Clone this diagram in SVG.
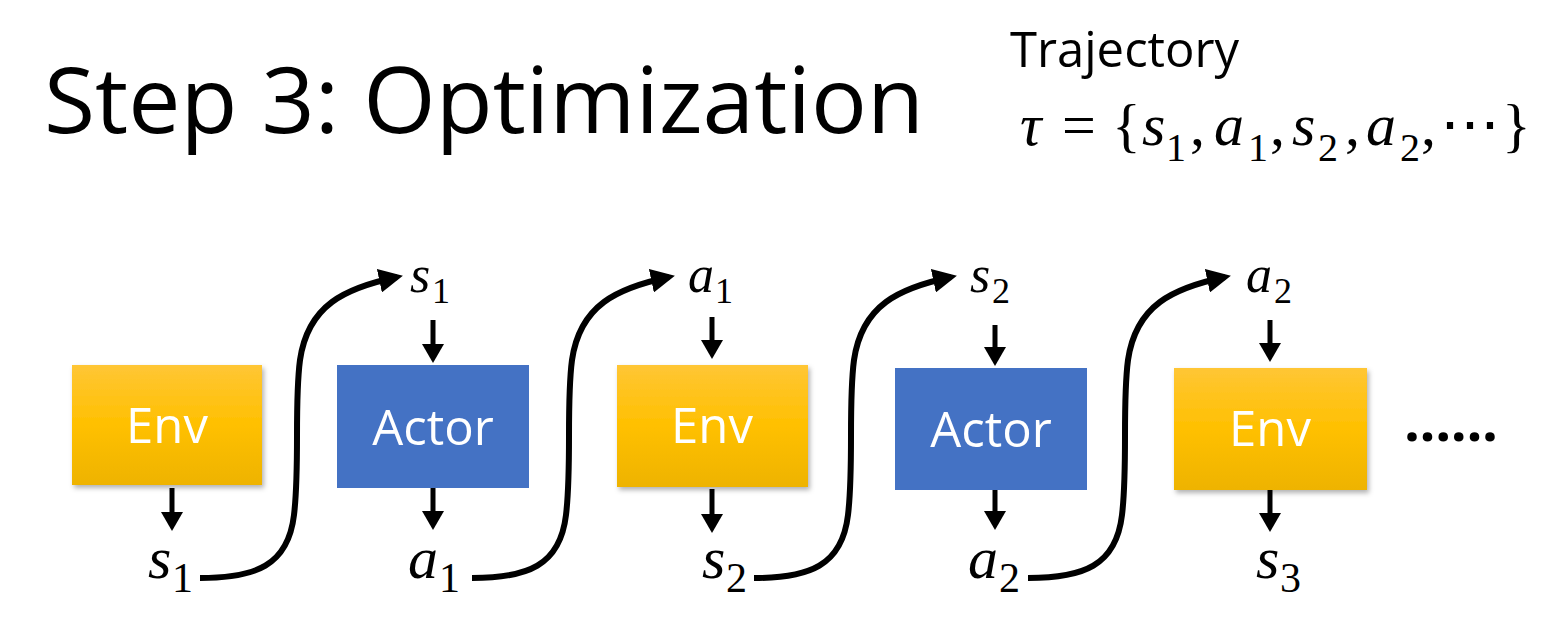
<svg xmlns="http://www.w3.org/2000/svg" width="1560" height="620" viewBox="0 0 1560 620">
<style>
.title{font-family:"Open Sans","Liberation Sans",sans-serif;fill:#000}
.box-t{font-family:"Open Sans","Liberation Sans",sans-serif;font-size:49px;fill:#fff;text-anchor:middle}
.m{font-family:"Liberation Serif","DejaVu Serif",serif;fill:#000}
.i{font-style:italic}
.conn{fill:none;stroke:#000;stroke-width:6;stroke-linecap:butt}
.dn{fill:none;stroke:#000;stroke-width:5}
</style>
<defs>
<linearGradient id="gold" x1="0" y1="0" x2="0" y2="1">
<stop offset="0" stop-color="#FFC635"/>
<stop offset="0.5" stop-color="#FFC000"/>
<stop offset="1" stop-color="#EEB300"/>
</linearGradient>
<filter id="sh" x="-10%" y="-10%" width="125%" height="130%">
<feDropShadow dx="2" dy="3" stdDeviation="2.5" flood-color="#000" flood-opacity="0.3"/>
</filter>
<marker id="ah" viewBox="0 0 24 24" markerWidth="24" markerHeight="24" refX="18" refY="12" orient="auto" markerUnits="userSpaceOnUse">
<path d="M0,0 L24,12 L0,24 Z" fill="#000"/>
</marker>
<marker id="ahs" viewBox="0 0 19 22" markerWidth="19" markerHeight="22" refX="14" refY="11" orient="auto" markerUnits="userSpaceOnUse">
<path d="M0,0 L19,11 L0,22 Z" fill="#000"/>
</marker>
</defs>
<rect width="1560" height="620" fill="#fff"/>

<text class="title" x="44" y="133" font-size="92" textLength="880" lengthAdjust="spacingAndGlyphs">Step 3: Optimization</text>
<text class="title" x="1010" y="67" font-size="49">Trajectory</text>

<g id="formula">
<text class="m" font-size="60">
<tspan class="i" x="1020" y="145">τ</tspan>
<tspan x="1062" y="145">=</tspan>
<tspan x="1112" y="145">{</tspan>
<tspan class="i" x="1142" y="145">s</tspan>
<tspan x="1166" y="161" font-size="40">1</tspan>
<tspan x="1190" y="145">,</tspan>
<tspan class="i" x="1214" y="145">a</tspan>
<tspan x="1248" y="161" font-size="40">1</tspan>
<tspan x="1270" y="145">,</tspan>
<tspan class="i" x="1292" y="145">s</tspan>
<tspan x="1318" y="161" font-size="40">2</tspan>
<tspan x="1345" y="145">,</tspan>
<tspan class="i" x="1366" y="145">a</tspan>
<tspan x="1400" y="161" font-size="40">2</tspan>
<tspan x="1421" y="145">,</tspan>
<tspan x="1440" y="145" font-family="DejaVu Serif">⋯</tspan>
<tspan x="1502" y="145">}</tspan>
</text>
</g>

<g id="env1">
<rect x="72" y="365" width="190" height="120" fill="url(#gold)" filter="url(#sh)"/>
<text class="box-t" x="167" y="443">Env</text>
</g>
<g id="actor1">
<rect x="337" y="365" width="192" height="123" fill="#4472C4"/>
<text class="box-t" x="433" y="445">Actor</text>
</g>
<g id="env2">
<rect x="617" y="365" width="191" height="122" fill="url(#gold)" filter="url(#sh)"/>
<text class="box-t" x="712" y="443">Env</text>
</g>
<g id="actor2">
<rect x="895" y="368" width="192" height="122" fill="#4472C4"/>
<text class="box-t" x="991" y="447">Actor</text>
</g>
<g id="env3">
<rect x="1174" y="368" width="193" height="122" fill="url(#gold)" filter="url(#sh)"/>
<text class="box-t" x="1270" y="446">Env</text>
</g>
<g id="more">
<text x="1404" y="441" font-family="Open Sans, Liberation Sans, sans-serif" font-weight="700" font-size="56" textLength="94" lengthAdjust="spacing">......</text>
</g>

<g id="labels" class="m">
<text font-size="52"><tspan class="i" x="410" y="292">s</tspan><tspan x="432" y="303" font-size="36">1</tspan></text>
<text font-size="52"><tspan class="i" x="688" y="292">a</tspan><tspan x="715" y="303" font-size="36">1</tspan></text>
<text font-size="52"><tspan class="i" x="970" y="292">s</tspan><tspan x="992" y="303" font-size="36">2</tspan></text>
<text font-size="52"><tspan class="i" x="1246" y="292">a</tspan><tspan x="1274" y="303" font-size="36">2</tspan></text>
<text font-size="60"><tspan class="i" x="148" y="578">s</tspan><tspan x="172" y="592" font-size="42">1</tspan></text>
<text font-size="60"><tspan class="i" x="408" y="578">a</tspan><tspan x="439" y="592" font-size="42">1</tspan></text>
<text font-size="60"><tspan class="i" x="702" y="578">s</tspan><tspan x="726" y="592" font-size="42">2</tspan></text>
<text font-size="60"><tspan class="i" x="968" y="578">a</tspan><tspan x="999" y="592" font-size="42">2</tspan></text>
<text font-size="60"><tspan class="i" x="1256" y="578">s</tspan><tspan x="1280" y="592" font-size="42">3</tspan></text>
</g>

<g id="connectors">
<path class="dn" d="M172 488 V526" marker-end="url(#ahs)"/>
<path class="dn" d="M433 320 V358" marker-end="url(#ahs)"/>
<path class="dn" d="M433 488 V525" marker-end="url(#ahs)"/>
<path class="dn" d="M712 317 V354" marker-end="url(#ahs)"/>
<path class="dn" d="M712 489 V528" marker-end="url(#ahs)"/>
<path class="dn" d="M995 325 V361" marker-end="url(#ahs)"/>
<path class="dn" d="M995 490 V525" marker-end="url(#ahs)"/>
<path class="dn" d="M1270 320 V357" marker-end="url(#ahs)"/>
<path class="dn" d="M1270 490 V527" marker-end="url(#ahs)"/>

<path class="conn" d="M200 578 C255 578 288 566 294 515 C300 465 294 405 300 360 C308 305 345 288 397 277" marker-end="url(#ah)"/>
<path class="conn" transform="translate(272 0)" d="M200 578 C255 578 288 566 294 515 C300 465 294 405 300 360 C308 305 345 288 397 277" marker-end="url(#ah)"/>
<path class="conn" transform="translate(554 0)" d="M200 578 C255 578 288 566 294 515 C300 465 294 405 300 360 C308 305 345 288 397 277" marker-end="url(#ah)"/>
<path class="conn" transform="translate(828 0)" d="M200 578 C255 578 288 566 294 515 C300 465 294 405 300 360 C308 305 345 288 397 277" marker-end="url(#ah)"/>
</g>
</svg>
